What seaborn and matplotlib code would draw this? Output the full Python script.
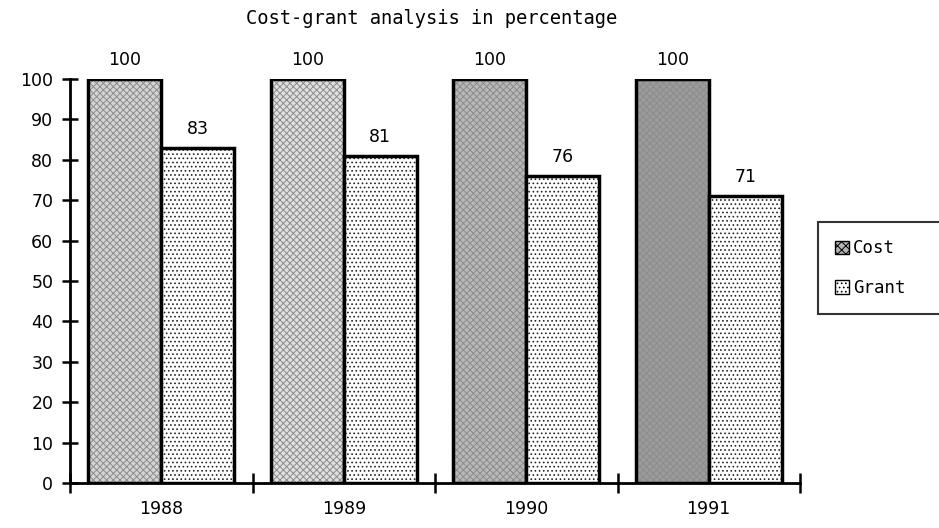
import pandas as pd
import matplotlib.pyplot as plt
import seaborn as sns
from matplotlib.patches import Patch

# chart values
years = ["1988", "1989", "1990", "1991"]
cost = [100, 100, 100, 100]
grant = [83, 81, 76, 71]
series = ["Cost", "Grant"]

# per-bar shading of the Cost stipple (style only)
cost_shades = ["#d4d4d4", "#e0e0e0", "#b8b8b8", "#9c9c9c"]

sns.set_style("ticks")
plt.rcParams["font.family"] = ["DejaVu Sans"]
plt.rcParams["text.color"] = "black"
plt.rcParams["xtick.color"] = "black"
plt.rcParams["ytick.color"] = "black"
plt.rcParams["hatch.linewidth"] = 0.7

df = pd.DataFrame({
    "Year": years * 2,
    "Value": cost + grant,
    "Series": [series[0]] * len(years) + [series[1]] * len(years),
})

fig = plt.figure(figsize=(9.39, 5.28), dpi=100)
ax = fig.add_axes([70 / 939, 45 / 528, 730 / 939, 404 / 528])

sns.barplot(data=df, x="Year", y="Value", hue="Series", hue_order=series,
            width=0.8, gap=0, ax=ax, legend=False, errorbar=None)

cost_bars, grant_bars = ax.containers[0], ax.containers[1]
for bar, shade in zip(cost_bars, cost_shades):
    bar.set_facecolor(shade)
    bar.set_hatch("xxxxx")
    bar.set_edgecolor("black")
    bar.set_linewidth(2.5)
    bar._hatch_color = (0.55, 0.55, 0.55, 1)
for bar in grant_bars:
    bar.set_facecolor("white")
    bar.set_hatch("....")
    bar.set_edgecolor("black")
    bar.set_linewidth(2.5)
    bar._hatch_color = (0.15, 0.15, 0.15, 1)

for cont in ax.containers:
    ax.bar_label(cont, fmt="%d", padding=7, fontsize=12.5, color="black")

ax.set_ylim(0, 100)
ax.set_xlim(-0.5, 3.5)
ax.set_yticks(range(0, 101, 10))
ax.tick_params(axis="y", direction="inout", length=12, width=1.8, labelsize=12.5, pad=6)
ax.set_xticks([-0.5, 0.5, 1.5, 2.5, 3.5])
ax.set_xticklabels([])
ax.set_xticks(range(len(years)), minor=True)
ax.set_xticklabels(years, minor=True, fontsize=12.5)
ax.tick_params(axis="x", which="major", direction="inout", length=14, width=1.8)
ax.tick_params(axis="x", which="minor", length=0, pad=12)
ax.set_xlabel("")
ax.set_ylabel("")
sns.despine(ax=ax)
for s in ["left", "bottom"]:
    ax.spines[s].set_linewidth(2)
    ax.spines[s].set_color("black")

fig.text(432 / 939, 1 - 18 / 528, "Cost-grant analysis in percentage",
         ha="center", va="center", family="DejaVu Sans Mono", fontsize=13.5,
         color="black")

handles = [
    Patch(facecolor="#b4b4b4", edgecolor="black", hatch="xxxx", label="Cost"),
    Patch(facecolor="white", edgecolor="black", hatch="....", label="Grant"),
]
leg = fig.legend(handles=handles, loc="upper left",
                 bbox_to_anchor=(818 / 939, 1 - 222 / 528 - 0.01, 0.2, 0.01),
                 mode="expand", frameon=True, fancybox=False,
                 handlelength=0.8, handleheight=0.8, handletextpad=0.2,
                 labelspacing=1.25, borderpad=1.0, borderaxespad=0,
                 prop={"family": "DejaVu Sans Mono", "size": 12.5})
leg.get_frame().set_edgecolor("black")
leg.get_frame().set_linewidth(1.5)

fig.savefig("out.png", dpi=100)
